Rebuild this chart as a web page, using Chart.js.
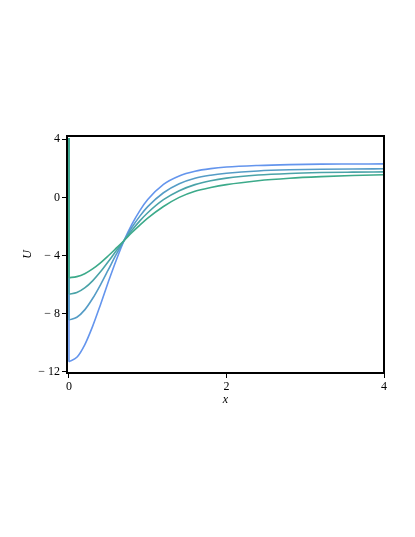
<!DOCTYPE html>
<html>
<head>
<meta charset="utf-8">
<script src="https://cdn.jsdelivr.net/npm/chart.js@4/dist/chart.umd.min.js"></script>
<style>
  html, body { margin: 0; padding: 0; background: #fff; }
  #wrap { width: 415px; height: 537px; }
</style>
</head>
<body>
<div id="wrap"><canvas id="uChart" width="415" height="537"></canvas></div>
<script>
// x samples
const xVals = [0, 0.1, 0.2, 0.3, 0.4, 0.5, 0.6, 0.7, 0.8, 0.9, 1.0, 1.2, 1.4, 1.6, 1.8, 2.0, 2.4, 2.8, 3.2, 3.6, 4.0];

// four U curves, deepest (blue) to shallowest (green)
const uBlue  = [-11.32, -11.02, -10.16, -8.89, -7.39, -5.82, -4.33, -2.97, -1.85, -0.91, -0.15, 0.90, 1.48, 1.80, 1.98, 2.09, 2.20, 2.26, 2.29, 2.30, 2.31];
const uBlue2 = [-8.44, -8.26, -7.75, -6.97, -6.02, -4.98, -3.93, -2.97, -2.06, -1.29, -0.64, 0.32, 0.94, 1.32, 1.53, 1.66, 1.82, 1.90, 1.94, 1.96, 1.97];
const uTeal  = [-6.67, -6.56, -6.24, -5.75, -5.13, -4.42, -3.68, -2.97, -2.26, -1.62, -1.06, -0.16, 0.46, 0.88, 1.15, 1.33, 1.54, 1.65, 1.71, 1.74, 1.76];
const uGreen = [-5.53, -5.46, -5.26, -4.93, -4.51, -4.02, -3.50, -2.97, -2.42, -1.91, -1.43, -0.63, 0.00, 0.42, 0.68, 0.88, 1.15, 1.32, 1.43, 1.51, 1.56];

// every curve starts with a vertical drop at x = 0 from just above the top
const startTop = 4.1;

const yTicks = [-12, -8, -4, 0, 4];
const xTicks = [0, 2, 4];

const curves = [
  { ys: uBlue,  color: '#6495ed' },
  { ys: uBlue2, color: '#559cc6' },
  { ys: uTeal,  color: '#4aa3a8' },
  { ys: uGreen, color: '#3caa8a' }
];

const datasets = [];
curves.forEach((c, i) => {
  const ord = curves.length - i; // green drawn last (on top)
  datasets.push({
    data: xVals.map((x, j) => ({ x, y: c.ys[j] })),
    borderColor: c.color,
    borderWidth: 1.6,
    pointRadius: 0,
    cubicInterpolationMode: 'monotone',
    order: ord
  });
  datasets.push({
    data: [{ x: 0, y: startTop }, { x: 0, y: c.ys[0] }],
    borderColor: c.color,
    borderWidth: 1.6,
    pointRadius: 0,
    order: ord
  });
});

// box round the plot area
const frame = {
  id: 'frame',
  afterDatasetsDraw(chart) {
    const { ctx, chartArea: a } = chart;
    ctx.save();
    ctx.strokeStyle = '#000';
    ctx.lineWidth = 2;
    ctx.strokeRect(a.left, a.top, a.right - a.left, a.bottom - a.top);
    ctx.restore();
  }
};

const serif = '"Liberation Serif", "DejaVu Serif", serif';

new Chart(document.getElementById('uChart'), {
  type: 'line',
  data: { datasets },
  plugins: [frame],
  options: {
    responsive: false,
    animation: false,
    layout: { padding: { left: 0, top: 136, right: 31, bottom: 124 } },
    plugins: { legend: { display: false }, tooltip: { enabled: false } },
    scales: {
      x: {
        type: 'linear',
        min: -0.025,
        max: 4,
        afterBuildTicks(s) { s.ticks = xTicks.map(v => ({ value: v })); },
        afterFit(s) { s.height = 40; },
        border: { display: false },
        grid: { drawOnChartArea: false, drawTicks: true, tickLength: 5, color: '#000', lineWidth: 1 },
        ticks: { color: '#000', padding: 2, maxRotation: 0, font: { family: serif, size: 12 } },
        title: { display: true, text: 'x', color: '#000', padding: { top: 0, bottom: 6 }, font: { family: serif, size: 12, style: 'italic' } }
      },
      y: {
        min: -12.1,
        max: 4.23,
        afterBuildTicks(s) { s.ticks = yTicks.map(v => ({ value: v })); },
        afterFit(s) { s.width = 67; },
        border: { display: false },
        grid: { drawOnChartArea: false, drawTicks: true, tickLength: 5, color: '#000', lineWidth: 1 },
        ticks: {
          color: '#000',
          padding: 2,
          font: { family: serif, size: 12 },
          callback(v) { return v < 0 ? '\u2212 ' + Math.abs(v) : String(v); }
        },
        title: { display: true, text: 'U', color: '#000', padding: { top: 21, bottom: 0 }, font: { family: serif, size: 12, style: 'italic' } }
      }
    }
  }
});
</script>
</body>
</html>
